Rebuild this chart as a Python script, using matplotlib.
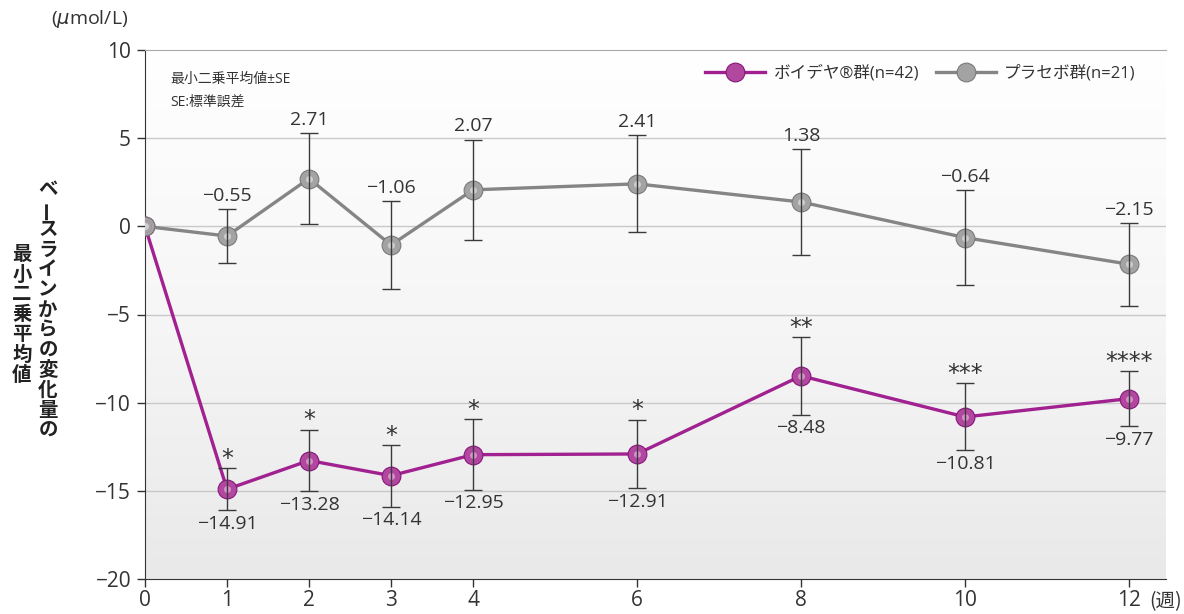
import numpy as np
import matplotlib
matplotlib.use('Agg')
import matplotlib.pyplot as plt
from matplotlib.colors import LinearSegmentedColormap

plt.rcParams['font.family'] = ['Open Sans', 'Noto Sans CJK JP', 'DejaVu Sans']
plt.rcParams['axes.unicode_minus'] = True

# data
weeks = [0, 1, 2, 3, 4, 6, 8, 10, 12]
drug_mean = [0, -14.91, -13.28, -14.14, -12.95, -12.91, -8.48, -10.81, -9.77]
drug_se = [0, 1.2, 1.75, 1.75, 2.0, 1.95, 2.2, 1.9, 1.58]
drug_stars = ['', '*', '*', '*', '*', '*', '**', '***', '****']
placebo_mean = [0, -0.55, 2.71, -1.06, 2.07, 2.41, 1.38, -0.64, -2.15]
placebo_se = [0, 1.55, 2.6, 2.5, 2.85, 2.75, 3.0, 2.7, 2.35]
drug_label = 'ボイデヤ®群(n=42)'
placebo_label = 'プラセボ群(n=21)'
ylabel_col1 = 'ベースラインからの変化量の'
ylabel_col2 = '最小二乗平均値'

PURPLE = '#a0218f'
GRAY = '#858585'
TXT = '#333333'

fig = plt.figure(figsize=(11.84, 6.14), dpi=100)
ax = fig.add_axes([145 / 1184, 1 - 579 / 614, (1166 - 145) / 1184, (579 - 50) / 614])

# gradient background (white at top -> light grey at bottom)
cmap_bg = LinearSegmentedColormap.from_list('bg', ['#ffffff', '#f6f6f6', '#e9e9ea'])
grad = np.linspace(0, 1, 256).reshape(-1, 1)
ax.imshow(grad, extent=[0, 1, 0, 1], transform=ax.transAxes, aspect='auto',
          cmap=cmap_bg, zorder=0)

ax.set_xlim(0, 12.45)
ax.set_ylim(-20, 10)
for yv in [5, 0, -5, -10, -15]:
    ax.axhline(yv, color='#c9c9c9', lw=1.0, zorder=1)

def sphere_line(x, y, se, color, dark, mid, light, label):
    ln, = ax.plot(x, y, color=color, lw=2.4, marker='o', ms=13.5,
                  mfc=mid, mec=dark, mew=0.8, zorder=3, label=label)
    ax.plot(x, y, ls='none', marker='o', ms=9, mfc=mid, mec='none', zorder=3.2)
    ax.plot(x, y, ls='none', marker='o', ms=5, mfc=light, mec='none', zorder=3.4)
    xe = [xi for xi, s in zip(x, se) if s > 0]
    ye = [yi for yi, s in zip(y, se) if s > 0]
    ee = [s for s in se if s > 0]
    ax.errorbar(xe, ye, yerr=ee, fmt='none', ecolor='#3a3a3a', elinewidth=1.0,
                capsize=6.5, capthick=1.0, zorder=5)
    return ln

l_drug = sphere_line(weeks, drug_mean, drug_se, PURPLE, '#86167a', '#b2479f', '#d692c9', drug_label)
l_plac = sphere_line(weeks, placebo_mean, placebo_se, GRAY, '#7a7a7a', '#a3a3a3', '#cfcfcf', placebo_label)

def fmt(v):
    return f'{v:.2f}'.replace('-', '−')

for x, m, s, st in zip(weeks, drug_mean, drug_se, drug_stars):
    if x == 0:
        continue
    ax.annotate(fmt(m), (x, m - s), xytext=(0, -3), textcoords='offset points',
                ha='center', va='top', fontsize=14, color=TXT)
    ax.annotate(st, (x, m + s), xytext=(0, -2), textcoords='offset points',
                ha='center', va='bottom', fontsize=17, color=TXT,
                family=['DejaVu Sans'])

for x, m, s in zip(weeks, placebo_mean, placebo_se):
    if x == 0:
        continue
    ax.annotate(fmt(m), (x, m + s), xytext=(0, 3), textcoords='offset points',
                ha='center', va='bottom', fontsize=14, color=TXT)

# axes styling
ax.spines['right'].set_visible(False)
ax.spines['top'].set_color('#a8a8a8')
ax.spines['left'].set_color('#333333')
ax.spines['bottom'].set_color('#333333')
ax.set_xticks(weeks)
ax.set_yticks([10, 5, 0, -5, -10, -15, -20])
ax.tick_params(axis='both', direction='out', length=6, width=1, color='#333333',
               labelsize=15, labelcolor=TXT)
ax.tick_params(axis='y', pad=4)
ax.tick_params(axis='x', pad=2)

ax.legend(handles=[l_drug, l_plac], loc='upper right', ncol=2, frameon=False,
          fontsize=12, handlelength=3.6, columnspacing=1.0, handletextpad=0.5,
          bbox_to_anchor=(0.985, 1.0), labelcolor=TXT)

ax.text(0.025, 0.945, '最小二乗平均値±SE', transform=ax.transAxes, fontsize=10,
        color=TXT, va='center')
ax.text(0.025, 0.902, 'SE:標準誤差', transform=ax.transAxes, fontsize=10,
        color=TXT, va='center')

fig.text(90 / 1184, 1 - 19 / 614, '($\\mu$mol/L)', ha='center', va='center',
         fontsize=14, color=TXT)
fig.text(1166 / 1184, 1 - 602 / 614, '(週)', ha='center', va='center',
         fontsize=14, color=TXT, family=['Noto Sans CJK JP'])

# vertical Japanese y label
def vertical(text, xc, ytop, step=20):
    for i, ch in enumerate(text):
        rot = 90 if ch == 'ー' else 0
        fig.text(xc / 1184, 1 - (ytop + i * step) / 614, ch, ha='center', va='center',
                 fontsize=14, fontweight='bold', color='#222222', rotation=rot,
                 family=['Noto Sans CJK JP'])

vertical(ylabel_col1, 48, 190)
vertical(ylabel_col2, 22, 255)

fig.savefig('out.png', dpi=100)
